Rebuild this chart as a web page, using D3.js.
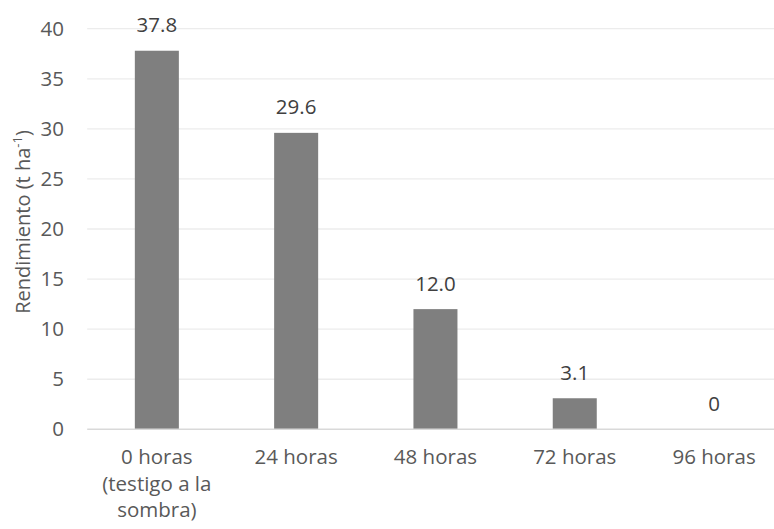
<!DOCTYPE html>
<html>
<head>
<meta charset="utf-8">
<script src="https://cdn.jsdelivr.net/npm/d3@7"></script>
<style>
  html, body { margin: 0; padding: 0; background: #fff; }
  svg { display: block; font-family: "Open Sans", sans-serif; }
</style>
</head>
<body>
<svg id="chart" width="774" height="529"></svg>
<script>
const categories = ["0 horas|(testigo a la|sombra)", "24 horas", "48 horas", "72 horas", "96 horas"];
const values = [37.8, 29.6, 12.0, 3.1, 0];
const valueLabels = ["37.8", "29.6", "12.0", "3.1", "0"];
const yTicks = [0, 5, 10, 15, 20, 25, 30, 35, 40];

const svg = d3.select("#chart");
const mLeft = 87.2, mRight = 783.7, mTop = 28.7, mBottom = 429.3;

const x = d3.scaleBand().domain(categories).range([mLeft, mRight])
  .paddingInner(0.684).paddingOuter(0.342);
const y = d3.scaleLinear().domain([0, 40]).range([mBottom, mTop]);

// gridlines
svg.append("g").selectAll("line").data(yTicks.filter(d => d !== 0)).join("line")
  .attr("x1", mLeft).attr("x2", mRight)
  .attr("y1", d => y(d)).attr("y2", d => y(d))
  .attr("stroke", "#ececec").attr("stroke-width", 1.3);

// y tick labels
svg.append("g").selectAll("text").data(yTicks).join("text")
  .attr("x", 64).attr("y", d => y(d)).attr("dy", "0.35em")
  .attr("text-anchor", "end").attr("font-size", 20.5).attr("fill", "#595959")
  .text(d => d);

// bars
svg.append("g").selectAll("rect").data(values).join("rect")
  .attr("x", (d, i) => x(categories[i])).attr("width", x.bandwidth())
  .attr("y", d => y(d)).attr("height", d => y(0) - y(d))
  .attr("fill", "#7f7f7f");

// baseline
svg.append("line").attr("x1", mLeft).attr("x2", mRight)
  .attr("y1", y(0)).attr("y2", y(0))
  .attr("stroke", "#d9d9d9").attr("stroke-width", 1.5);

// data labels
svg.append("g").selectAll("text").data(values).join("text")
  .attr("x", (d, i) => x(categories[i]) + x.bandwidth() / 2)
  .attr("y", d => y(d) - 18.5)
  .attr("text-anchor", "middle").attr("font-size", 20.5).attr("fill", "#404040")
  .text((d, i) => valueLabels[i]);

// x labels
const xl = svg.append("g").selectAll("text").data(categories).join("text")
  .attr("x", d => x(d) + x.bandwidth() / 2)
  .attr("y", 464)
  .attr("text-anchor", "middle").attr("font-size", 20.5).attr("fill", "#595959");
xl.each(function(d) {
  const t = d3.select(this);
  d.split("|").forEach((line, j) => {
    t.append("tspan").attr("x", x(d) + x.bandwidth() / 2)
      .attr("y", 464 + j * 26.5).text(line);
  });
});

// y title
const yt = svg.append("text")
  .attr("transform", "translate(30,222) rotate(-90)")
  .attr("text-anchor", "middle").attr("font-size", 20).attr("fill", "#595959");
yt.append("tspan").text("Rendimiento (t ha");
yt.append("tspan").attr("font-size", 13).attr("dy", -8).text("-1");
yt.append("tspan").attr("dy", 8).text(")");
</script>
</body>
</html>
